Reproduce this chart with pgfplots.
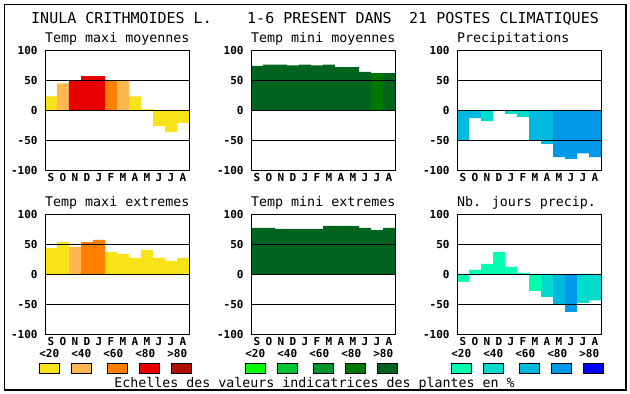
\documentclass[border=0pt]{standalone}
\usepackage{pgfplots}
\pgfplotsset{compat=1.18}
\usepackage{fontspec}
\newfontfamily\mono{DejaVu Sans Mono}
\newcommand{\tickf}{\mono\bfseries\fontsize{11}{11}\selectfont}
\newcommand{\titf}{\mono\fontsize{13.3}{13.3}\selectfont}
\newcommand{\bigf}{\mono\fontsize{15}{15}\selectfont}
% temperature max scale
\definecolor{tA}{RGB}{248,226,24}
\definecolor{tB}{RGB}{255,184,80}
\definecolor{tC}{RGB}{255,128,0}
\definecolor{tD}{RGB}{232,0,0}
\definecolor{tE}{RGB}{176,16,0}
% temperature min scale
\definecolor{gA}{RGB}{0,255,0}
\definecolor{gB}{RGB}{0,200,50}
\definecolor{gC}{RGB}{0,150,45}
\definecolor{gD}{RGB}{0,120,0}
\definecolor{gE}{RGB}{0,100,30}
% precipitation scale
\definecolor{bA}{RGB}{0,255,176}
\definecolor{bB}{RGB}{0,220,203}
\definecolor{bC}{RGB}{0,185,222}
\definecolor{bD}{RGB}{0,152,232}
\definecolor{bE}{RGB}{0,0,255}
\pgfplotsset{
  panel/.style={
    scale only axis, width=144pt, height=120pt, anchor=south west,
    xmin=0, xmax=12, ymin=-100, ymax=100,
    axis on top,
    axis line style={line width=0.9pt},
    ytick={-100,-50,0,50,100},
    yticklabels={-100,-50,0,50,100},
    xtick={0.5,1.5,2.5,3.5,4.5,5.5,6.5,7.5,8.5,9.5,10.5,11.5},
    xticklabels={S,O,N,D,J,F,M,A,M,J,J,A},
    major tick length=0pt,
    tick label style={font=\tickf, inner sep=0pt},
    yticklabel style={anchor=east, xshift=-7.3pt},
    xticklabel style={anchor=north, yshift=-3pt},
  },
  cbar/.style={ybar, bar width=1, bar shift=0pt, fill=#1, draw=none},
  refl/.style={black, line width=0.9pt, no marks},
}
\newcommand{\reflines}{%
  \addplot[refl] coordinates {(0,50) (12,50)};
  \addplot[refl] coordinates {(0,0) (12,0)};
  \addplot[refl] coordinates {(0,-50) (12,-50)};
}
\begin{document}
\begin{tikzpicture}[x=1pt,y=1pt]
\useasboundingbox (0,0) rectangle (630,394);
\draw[line width=1.3pt] (4.7,4) rectangle (626,389.7);
% main title
\node[anchor=base west, inner sep=0pt] at (31,370.7) {\bigf INULA CRITHMOIDES L.};
\node[anchor=base west, inner sep=0pt] at (247,370.7) {\bigf 1-6 PRESENT DANS};
\node[anchor=base west, inner sep=0pt] at (409,370.7) {\bigf 21 POSTES CLIMATIQUES};
% panel titles
\node[anchor=base west, inner sep=0pt] at (45,351) {\titf Temp maxi moyennes};
\node[anchor=base west, inner sep=0pt] at (251,351) {\titf Temp mini moyennes};
\node[anchor=base west, inner sep=0pt] at (457,351) {\titf Precipitations};
\node[anchor=base west, inner sep=0pt] at (45,187.5) {\titf Temp maxi extremes};
\node[anchor=base west, inner sep=0pt] at (251,187.5) {\titf Temp mini extremes};
\node[anchor=base west, inner sep=0pt] at (457,187.5) {\titf Nb. jours precip.};

% ---- Temp maxi moyennes
\begin{axis}[panel, at={(45pt,223.7pt)}]
\addplot[cbar=tA] coordinates {(0.5,23) (7.5,23) (8.5,2) (9.5,-26) (10.5,-36) (11.5,-21)};
\addplot[cbar=tB] coordinates {(1.5,45) (6.5,50)};
\addplot[cbar=tD] coordinates {(2.5,50) (3.5,57) (4.5,57)};
\addplot[cbar=tC] coordinates {(5.5,50)};
\reflines
\end{axis}
% ---- Temp mini moyennes
\begin{axis}[panel, at={(251pt,223.7pt)}]
\addplot[cbar=gE] coordinates {(0.5,74) (1.5,76) (2.5,76) (3.5,75) (4.5,76) (5.5,75) (6.5,76) (7.5,72) (8.5,72) (9.5,64) (11.5,62)};
\addplot[cbar=gD] coordinates {(10.5,62)};
\reflines
\end{axis}
% ---- Precipitations
\begin{axis}[panel, at={(457pt,223.7pt)}]
\addplot[cbar=bC] coordinates {(0.5,-50) (1.5,-13) (6.5,-50) (7.5,-56)};
\addplot[cbar=bB] coordinates {(2.5,-18) (4.5,-6) (5.5,-11)};
\addplot[cbar=bD] coordinates {(8.5,-78) (9.5,-81) (10.5,-72) (11.5,-78)};
\reflines
\end{axis}
% ---- Temp maxi extremes
\begin{axis}[panel, at={(45pt,60pt)}]
\addplot[cbar=tA] coordinates {(0.5,43) (1.5,53) (5.5,37) (6.5,33) (7.5,27) (8.5,40) (9.5,27) (10.5,22) (11.5,27)};
\addplot[cbar=tB] coordinates {(2.5,45)};
\addplot[cbar=tC] coordinates {(3.5,53) (4.5,57)};
\reflines
\end{axis}
% ---- Temp mini extremes
\begin{axis}[panel, at={(251pt,60pt)}]
\addplot[cbar=gE] coordinates {(0.5,77) (1.5,77) (2.5,75) (3.5,75) (4.5,75) (5.5,75) (6.5,80) (7.5,80) (8.5,80) (9.5,77) (10.5,73) (11.5,77)};
\reflines
\end{axis}
% ---- Nb jours precip
\begin{axis}[panel, at={(457pt,60pt)}]
\addplot[cbar=bA] coordinates {(0.5,-13) (1.5,7) (2.5,17) (3.5,37) (4.5,12) (5.5,2) (6.5,-28)};
\addplot[cbar=bB] coordinates {(7.5,-38) (10.5,-48) (11.5,-44)};
\addplot[cbar=bC] coordinates {(8.5,-50)};
\addplot[cbar=bD] coordinates {(9.5,-64)};
\reflines
\end{axis}

% ---- colour scales
\foreach \off/\pre in {0/t,206/g,412/b}{
  \foreach \lab/\lx/\sx/\c in {{<20}/49.3/39.3/A,{<40}/81.3/71.3/B,{<60}/113.3/107.3/C,{<80}/145.3/139.3/D,{>80}/177.3/171.3/E}{
    \node[anchor=base, inner sep=0pt] at (\lx+\off,36.5) {\tickf\lab};
    \draw[line width=0.8pt, fill=\pre\c] (\sx+\off,21) rectangle ++(20,9.7);
  }
}
\node[anchor=base, inner sep=0pt] at (314.5,6.9) {\titf Echelles des valeurs indicatrices des plantes en \%};
\end{tikzpicture}
\end{document}
